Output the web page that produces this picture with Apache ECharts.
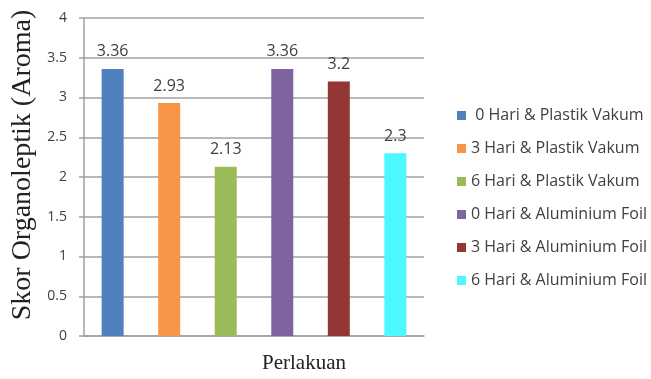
<!DOCTYPE html>
<html>
<head>
<meta charset="utf-8">
<script src="https://cdn.jsdelivr.net/npm/echarts@6/dist/echarts.min.js"></script>
<style>html,body{margin:0;padding:0;background:#fff}#c{width:651px;height:379px}</style>
</head>
<body>
<div id="c"></div>
<script>
const seriesNames = [' 0 Hari & Plastik Vakum','3 Hari & Plastik Vakum','6 Hari & Plastik Vakum','0 Hari & Aluminium Foil','3 Hari & Aluminium Foil','6 Hari & Aluminium Foil'];
const values = [3.36, 2.93, 2.13, 3.36, 3.2, 2.3];
const colors = ['#4F81BD','#F79646','#9BBB59','#8064A2','#943634','#4BF8FF'];
const categories = [''];
const yTicks = {min:0, max:4, interval:0.5};

const chart = echarts.init(document.getElementById('c'));
const series = seriesNames.map((n,i)=>({
  name:n, type:'bar', data:[values[i]], barWidth:22, barGap:'157%',
  itemStyle:{color:colors[i]},
  label:{show:true, position:'top', distance:9, color:'#404040', fontSize:16, fontFamily:'Open Sans', formatter:p=>String(p.value)}
}));
chart.setOption({
  animation:false,
  grid:{left:84, right:227, top:18, bottom:41},
  legend:{orient:'vertical', left:452, top:101, itemWidth:9, itemHeight:9, itemGap:14, icon:'rect',
    data:seriesNames, textStyle:{color:'#404040', fontSize:16, fontFamily:'Open Sans', lineHeight:19}},
  xAxis:{type:'category', data:categories, name:'Perlakuan', nameLocation:'middle', nameGap:17,
    nameTextStyle:{fontFamily:'Liberation Serif', fontSize:21, color:'#222', padding:[0,0,0,100]},
    axisLine:{lineStyle:{color:'#A0A0A0', width:1.5}}, axisTick:{show:false}, axisLabel:{show:false}},
  yAxis:{type:'value', min:yTicks.min, max:yTicks.max, interval:yTicks.interval,
    name:'Skor Organoleptik (Aroma)', nameLocation:'middle', nameGap:44,
    nameTextStyle:{fontFamily:'Liberation Serif', fontSize:28, color:'#222', padding:[0,0,0,24]},
    axisLine:{show:true, lineStyle:{color:'#A0A0A0', width:1.5}},
    axisTick:{show:true, length:5, lineStyle:{color:'#A0A0A0', width:1.5}},
    axisLabel:{color:'#404040', fontSize:14, fontFamily:'Open Sans', margin:17},
    splitLine:{lineStyle:{color:'#A0A0A0', width:1.5}}},
  series
});
</script>
</body>
</html>
